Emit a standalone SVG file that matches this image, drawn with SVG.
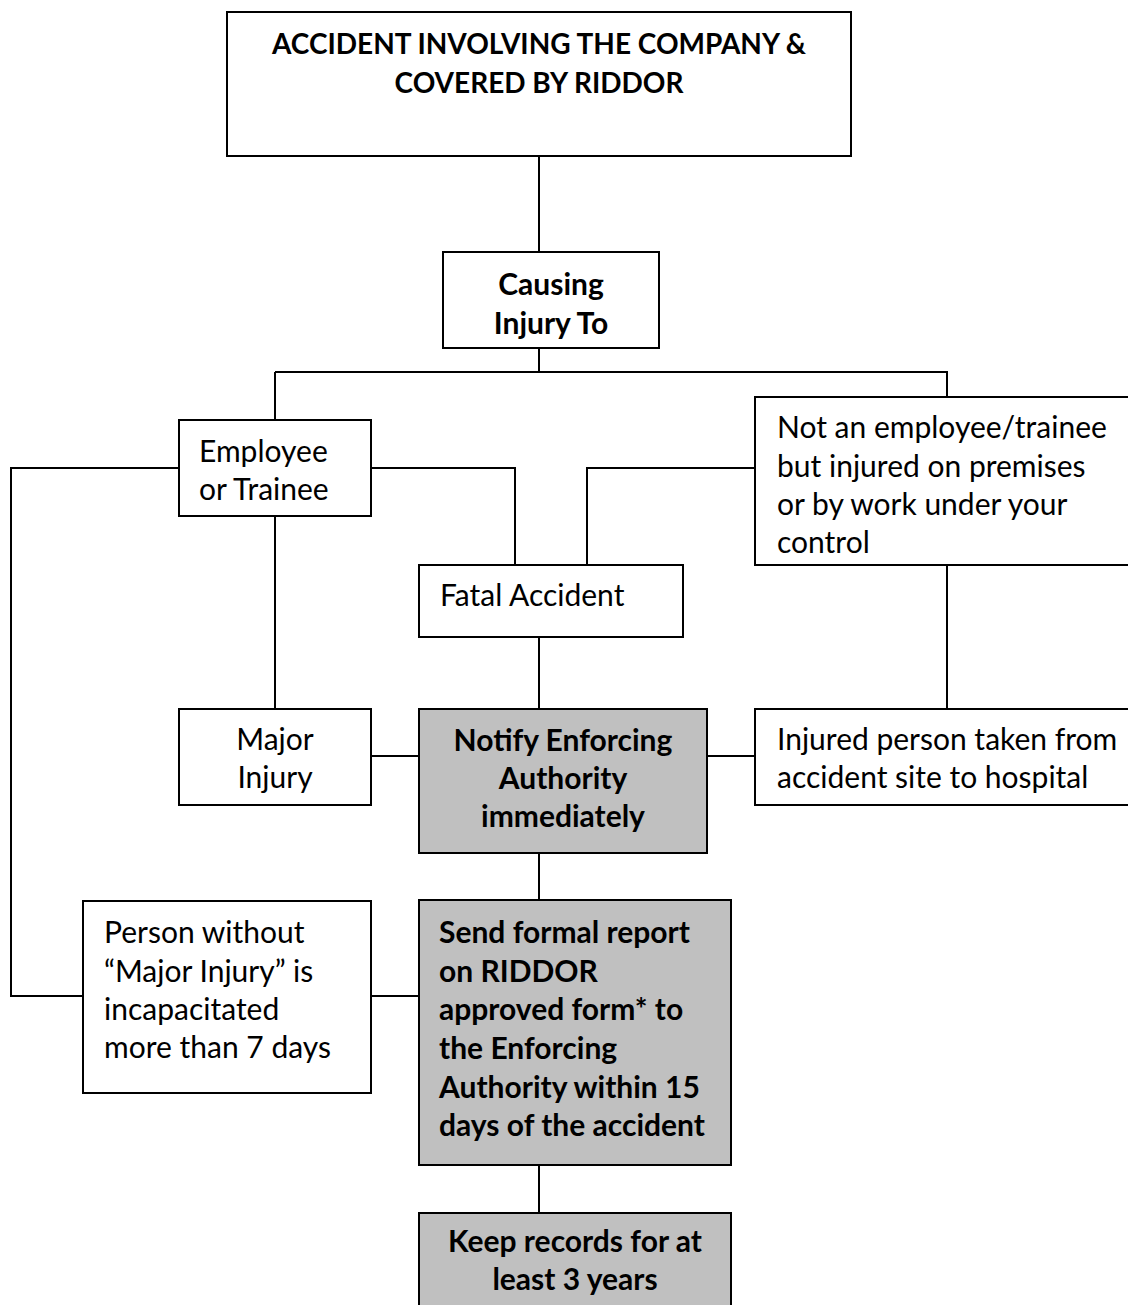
<svg xmlns="http://www.w3.org/2000/svg" width="1128" height="1305" viewBox="0 0 1128 1305">
<style>
.box{fill:#fff;stroke:#000;stroke-width:2}
.gray{fill:#c0c0c0;stroke:#000;stroke-width:2}
.t{font-family:Lato,"Open Sans","Liberation Sans",sans-serif;font-size:30px;fill:#000}
.b{font-family:Lato,"Open Sans","Liberation Sans",sans-serif;font-size:30px;font-weight:bold;fill:#000}
.h{font-size:28px}
.c{text-anchor:middle}
#connectors path{fill:none;stroke:#000;stroke-width:2}
</style>
<rect width="1128" height="1305" fill="#fff"/>
<g id="connectors">
<path d="M539 156V252"/>
<path d="M539 348V372M275 372H947V397"/>
<path d="M275 372V420"/>
<path d="M275 516V709"/>
<path d="M179 468H11V996H83"/>
<path d="M371 468H515V565"/>
<path d="M755 468H587V565"/>
<path d="M539 637V709"/>
<path d="M947 565V709"/>
<path d="M371 756H419"/>
<path d="M707 756H755"/>
<path d="M539 853V900"/>
<path d="M371 996H419"/>
<path d="M539 1165V1213"/>
</g>
<g id="n-accident">
<rect class="box" x="227" y="12" width="624" height="144"/>
<text class="b h c" x="539" y="54">ACCIDENT INVOLVING THE COMPANY &amp;</text>
<text class="b h c" x="539" y="93">COVERED BY RIDDOR</text>
</g>
<g id="n-causing">
<rect class="box" x="443" y="252" width="216" height="96"/>
<text class="b c" x="551" y="295">Causing</text>
<text class="b c" x="551" y="334">Injury To</text>
</g>
<g id="n-employee">
<rect class="box" x="179" y="420" width="192" height="96"/>
<text class="t" x="199" y="462">Employee</text>
<text class="t" x="199" y="500">or Trainee</text>
</g>
<g id="n-notemployee">
<rect class="box" x="755" y="397" width="390" height="168"/>
<text class="t" x="777" y="438">Not an employee/trainee</text>
<text class="t" x="777" y="477">but injured on premises</text>
<text class="t" x="777" y="515">or by work under your</text>
<text class="t" x="777" y="553">control</text>
</g>
<g id="n-fatal">
<rect class="box" x="419" y="565" width="264" height="72"/>
<text class="t" x="440" y="606">Fatal Accident</text>
</g>
<g id="n-major">
<rect class="box" x="179" y="709" width="192" height="96"/>
<text class="t c" x="275" y="750">Major</text>
<text class="t c" x="275" y="788">Injury</text>
</g>
<g id="n-notify">
<rect class="gray" x="419" y="709" width="288" height="144"/>
<text class="b c" x="563" y="751">Notify Enforcing</text>
<text class="b c" x="563" y="789">Authority</text>
<text class="b c" x="563" y="827">immediately</text>
</g>
<g id="n-injured">
<rect class="box" x="755" y="709" width="390" height="96"/>
<text class="t" x="777" y="750">Injured person taken from</text>
<text class="t" x="777" y="788">accident site to hospital</text>
</g>
<g id="n-person">
<rect class="box" x="83" y="901" width="288" height="192"/>
<text class="t" x="104" y="943">Person without</text>
<text class="t" x="104" y="982">“Major Injury” is</text>
<text class="t" x="104" y="1020">incapacitated</text>
<text class="t" x="104" y="1058">more than 7 days</text>
</g>
<g id="n-send">
<rect class="gray" x="419" y="900" width="312" height="265"/>
<text class="b" x="439" y="943">Send formal report</text>
<text class="b" x="439" y="982">on RIDDOR</text>
<text class="b" x="439" y="1020">approved form* to</text>
<text class="b" x="439" y="1059">the Enforcing</text>
<text class="b" x="439" y="1098">Authority within 15</text>
<text class="b" x="439" y="1136">days of the accident</text>
</g>
<g id="n-keep">
<rect class="gray" x="419" y="1213" width="312" height="110"/>
<text class="b c" x="575" y="1252">Keep records for at</text>
<text class="b c" x="575" y="1290">least 3 years</text>
</g>
</svg>
